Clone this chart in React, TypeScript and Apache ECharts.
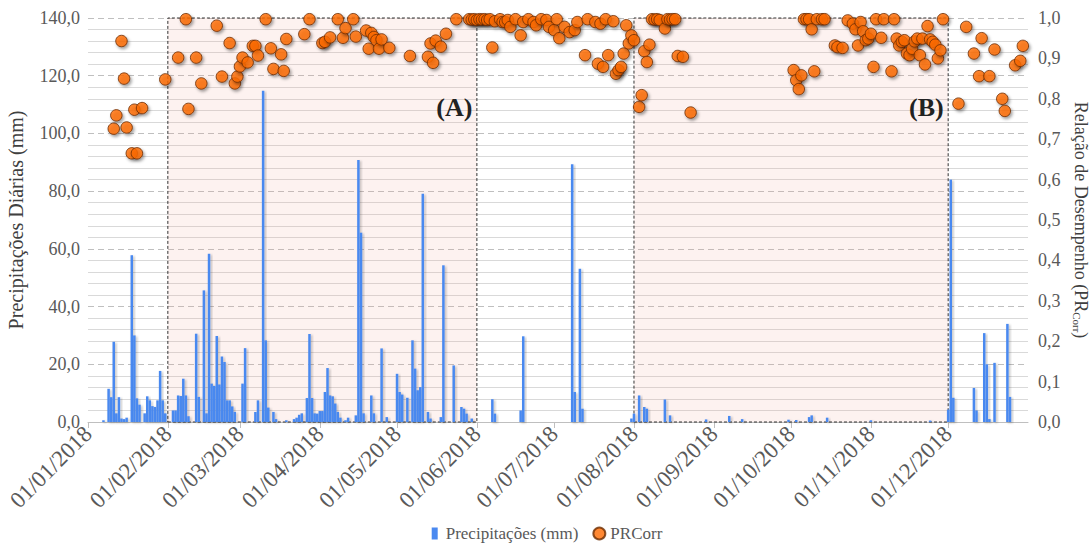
import React, { useEffect, useRef } from 'react';
import * as echarts from 'echarts';

const FONT = '"Liberation Serif", "Times New Roman", serif';
const YEAR = 2018;

// month indices (0 = January) where date ticks/labels are placed
const tickMonths = [0, 1, 2, 3, 4, 5, 6, 7, 8, 9, 10, 11];

// Daily precipitation (day of year 2018, mm)
const precipDay = [
  7, 9, 10, 11, 12, 13, 14, 15, 16, 18, 19, 20, 21, 23, 24, 25, 26, 27, 28, 29, 30, 31,
  34, 35, 36, 37, 38, 39, 40, 43, 44, 46, 47, 48, 49, 50, 51, 52, 53, 54, 55, 56, 57, 58,
  61, 62, 66, 67, 69, 70, 71, 73, 74, 78, 81, 82, 83, 84, 86, 87, 88, 89, 90,
  91, 92, 93, 94, 95, 96, 97, 98, 99, 101, 102, 105, 106, 107, 108, 111, 112, 115, 117,
  121, 122, 123, 125, 127, 128, 129, 130, 131, 133, 134, 138, 139, 143, 146, 147, 148, 150,
  158, 159, 169, 170, 189, 190, 192, 193, 212, 213, 215, 217, 218, 225, 227,
  241, 250, 255, 273, 276, 281, 282, 288, 305, 328,
  335, 336, 337, 345, 346, 349, 350, 351, 353, 358, 359,
];
const precipMm = [
  0.6, 11.5, 8.6, 27.8, 3.0, 8.6, 1.2, 1.0, 1.5, 57.8, 30.0, 8.2, 6.0, 3.0, 8.9, 7.5, 5.5, 5.2, 7.5, 17.7, 7.5, 3.0,
  4.0, 4.0, 9.2, 9.0, 15.0, 9.2, 2.0, 30.6, 8.7, 45.6, 3.0, 58.3, 13.3, 12.5, 29.8, 13.0, 22.7, 20.8, 7.5, 7.5, 5.4, 3.5,
  13.3, 25.6, 3.5, 7.5, 114.8, 28.3, 5.0, 3.5, 1.0, 0.6, 1.0, 1.5, 2.5, 3.0, 8.3, 30.5, 8.3, 3.0, 2.9,
  3.8, 3.8, 10.4, 18.7, 9.2, 8.9, 6.4, 3.5, 1.5, 0.6, 1.5, 2.3, 90.8, 65.6, 3.0, 9.2, 3.0, 25.5, 1.7,
  16.7, 10.4, 9.5, 8.4, 28.3, 18.5, 11.0, 12.1, 79.1, 3.5, 1.2, 1.7, 54.3, 19.6, 5.2, 4.6, 2.9, 1.2,
  7.9, 2.9, 4.0, 29.7, 89.3, 10.4, 53.1, 4.6, 1.2, 2.9, 9.2, 5.2, 4.6, 7.8, 2.3,
  0.9, 2.1, 1.0, 0.8, 0.7, 1.7, 2.3, 1.5, 0.6, 0.5,
  4.3, 84.0, 8.4, 11.8, 4.0, 30.8, 20.0, 1.0, 20.5, 34.0, 8.7,
];

// Performance ratio PRCorr (day of year 2018, value)
const prDay = [
  11, 12, 14, 15, 16, 18, 19, 20, 22, 31,
  36, 39, 40, 43, 45, 51, 53, 56, 58, 59, 60, 61, 63, 65, 66, 67, 70, 72, 73, 76, 77, 78,
  85, 87, 92, 93, 95, 98, 100, 101, 104, 105, 109, 110, 111, 112, 113, 114, 115, 118,
  126, 133, 134, 135, 136, 138, 140, 144,
  149, 150, 151, 152, 153, 154, 155, 156, 157, 158, 159, 161, 162, 163, 164, 165, 167, 169, 170,
  172, 174, 175, 177, 179, 180, 182, 183, 184, 186, 188, 190, 191, 194, 195, 198, 199, 200,
  201, 202, 203, 205, 206, 207, 208, 209, 210, 211, 212, 213, 215, 216, 217, 218, 219,
  220, 221, 222, 223, 225, 226, 227, 228, 229, 230, 232, 235,
  275, 276, 277, 278, 279, 280, 281, 282, 283, 284, 286, 287, 291, 292, 294, 296, 298, 299,
  300, 301, 302, 303, 304, 305, 306, 307, 309, 310, 313, 314,
  315, 316, 317, 318, 319, 320, 321, 322, 323, 324, 325, 326, 327, 328, 329, 330, 331, 332, 333,
  339, 342, 345, 347, 348, 351, 353, 356, 357, 361, 363, 364,
];
const prValue = [
  0.726, 0.759, 0.943, 0.85, 0.729, 0.665, 0.773, 0.665, 0.777, 0.848,
  0.902, 0.997, 0.775, 0.902, 0.838, 0.981, 0.855, 0.938, 0.838, 0.855, 0.88, 0.902, 0.89, 0.931, 0.931, 0.907, 0.997, 0.925, 0.874, 0.91, 0.869, 0.948,
  0.96, 0.997, 0.938, 0.941, 0.952, 0.997, 0.951, 0.975, 0.997, 0.954, 0.969, 0.924, 0.963, 0.953, 0.945, 0.924, 0.947, 0.926,
  0.906, 0.904, 0.937, 0.889, 0.944, 0.929, 0.961, 0.997,
  0.997, 0.996, 0.997, 0.995, 0.997, 0.996, 0.997, 0.995, 0.997, 0.927, 0.992, 0.997, 0.99, 0.99, 0.995, 0.978, 0.997, 0.957, 0.99,
  0.997, 0.99, 0.982, 0.997, 0.995, 0.978, 0.97, 0.997, 0.95, 0.978, 0.965, 0.97, 0.99, 0.908, 0.997, 0.99, 0.887, 0.986,
  0.879, 0.997, 0.908, 0.992, 0.862, 0.871, 0.879, 0.912, 0.982, 0.937, 0.957, 0.945, 0.78, 0.809, 0.918, 0.891, 0.934,
  0.997, 0.996, 0.997, 0.995, 0.974, 0.997, 0.996, 0.997, 0.997, 0.906, 0.904, 0.766,
  0.871, 0.846, 0.824, 0.858, 0.997, 0.997, 0.997, 0.972, 0.868, 0.997, 0.997, 0.997, 0.932, 0.928, 0.926, 0.994, 0.986, 0.972,
  0.932, 0.99, 0.967, 0.945, 0.949, 0.961, 0.879, 0.997, 0.951, 0.997, 0.868, 0.997,
  0.949, 0.932, 0.941, 0.945, 0.912, 0.908, 0.924, 0.942, 0.949, 0.908, 0.949, 0.885, 0.98, 0.947, 0.941, 0.934, 0.9, 0.92, 0.997,
  0.788, 0.978, 0.912, 0.856, 0.95, 0.856, 0.922, 0.8, 0.77, 0.883, 0.894, 0.931,
];

// Highlighted periods: label, start month, end month (first day of each month)
const periodLabels = ['(A)', '(B)'];
const periodStartMonth = [1, 7];
const periodEndMonth = [5, 11];

const dayTime = (day: number) => new Date(YEAR, 0, day).getTime();
const monthTime = (m: number) => new Date(YEAR, m, 1).getTime();
const pad = (n: number) => (n < 10 ? '0' + n : '' + n);
const fmtDate = (v: number) => {
  const d = new Date(v);
  return pad(d.getDate()) + '/' + pad(d.getMonth() + 1) + '/' + d.getFullYear();
};
const fmtNum = (v: number) => v.toFixed(1).replace('.', ',');
const serif = (size: number, color: string) => ({ fontFamily: FONT, fontSize: size, color });

export default function App() {
  const ref = useRef<HTMLDivElement>(null);
  useEffect(() => {
    if (!ref.current) return;
    const chart = echarts.init(ref.current, undefined, { renderer: 'svg' });
    const ticks = tickMonths.map(monthTime);
    const barData = precipDay.map((d, i) => [dayTime(d), precipMm[i]]);
    const prData = prDay.map((d, i) => [dayTime(d), prValue[i]]);
    const areas = periodLabels.map((lab, i) => [
      { xAxis: monthTime(periodStartMonth[i]), name: lab },
      { xAxis: monthTime(periodEndMonth[i]) },
    ]);

    const option: any = {
      animation: false,
      backgroundColor: '#ffffff',
      textStyle: { fontFamily: FONT },
      grid: { left: 88, right: 63, top: 18, bottom: 127, containLabel: false, outerBoundsMode: 'none' },
      legend: {
        bottom: 2,
        left: 'center',
        itemGap: 14,
        itemWidth: 12,
        itemHeight: 12,
        textStyle: serif(17, '#595959'),
        data: [
          { name: 'Precipitações (mm)', icon: 'path://M0,0M12,12M3,0h6v12h-6z' },
          { name: 'PRCorr', icon: 'circle' },
        ],
      },
      xAxis: {
        type: 'value',
        min: monthTime(0),
        max: monthTime(12),
        axisLine: { show: true, onZero: false, lineStyle: { color: '#bfbfbf', width: 1 } },
        axisTick: { show: true, customValues: ticks, length: 6, lineStyle: { color: '#bfbfbf' } },
        axisLabel: {
          customValues: ticks,
          rotate: 45,
          formatter: (v: number) => fmtDate(v),
          ...serif(23, '#595959'),
          margin: 8,
        },
        splitLine: { show: false },
      },
      yAxis: [
        {
          type: 'value',
          min: 0,
          max: 140,
          interval: 20,
          position: 'left',
          name: 'Precipitações Diárias (mm)',
          nameLocation: 'middle',
          nameRotate: 90,
          nameGap: 62,
          nameTextStyle: serif(20, '#404040'),
          axisLine: { show: false },
          axisTick: { show: false },
          axisLabel: { formatter: fmtNum, ...serif(18, '#595959'), margin: 8 },
          splitLine: { show: true, lineStyle: { color: '#bfbfbf', type: [6, 4], width: 1 } },
          minorTick: { show: false, splitNumber: 5 },
          minorSplitLine: { show: true, lineStyle: { color: '#d9d9d9', width: 1 } },
        },
        {
          type: 'value',
          min: 0,
          max: 1,
          interval: 0.1,
          position: 'right',
          name: '{t|Relação de Desempenho (PR}{s|Corr}{t|)}',
          nameLocation: 'middle',
          nameRotate: -90,
          nameGap: 38,
          nameTextStyle: {
            ...serif(18, '#404040'),
            rich: { t: serif(18, '#404040'), s: { ...serif(11, '#404040'), padding: [8, 0, 0, 0] } },
          },
          axisLine: { show: false },
          axisTick: { show: false },
          axisLabel: { formatter: fmtNum, ...serif(18, '#595959'), margin: 10 },
          splitLine: { show: false },
        },
      ],
      series: [
        {
          name: 'Precipitações (mm)',
          type: 'bar',
          yAxisIndex: 0,
          barWidth: 2.5,
          data: barData,
          itemStyle: {
            color: '#4a89f0',
            shadowColor: 'rgba(0,0,0,0.25)',
            shadowBlur: 2,
            shadowOffsetX: 1.5,
            shadowOffsetY: 1,
          },
          markArea: {
            silent: true,
            itemStyle: {
              color: 'rgba(240,160,150,0.14)',
              borderColor: '#333333',
              borderWidth: 1,
              borderType: [3, 2],
            },
            label: {
              show: true,
              position: 'insideTopRight',
              distance: 5,
              offset: [0, 72],
              fontFamily: FONT,
              fontSize: 26,
              fontWeight: 'bold',
              color: '#222222',
            },
            data: areas,
          },
        },
        {
          name: 'PRCorr',
          type: 'scatter',
          yAxisIndex: 1,
          symbol: 'circle',
          symbolSize: 11.5,
          data: prData,
          itemStyle: {
            color: '#ff6a00',
            borderColor: '#6b2c00',
            borderWidth: 1,
            shadowColor: 'rgba(0,0,0,0.45)',
            shadowBlur: 3,
            shadowOffsetX: 1.5,
            shadowOffsetY: 2,
          },
          z: 3,
        },
      ],
    };
    chart.setOption(option);
    return () => chart.dispose();
  }, []);
  return (
    <div
      ref={ref}
      style={{ position: 'absolute', left: 0, top: 0, width: 1091, height: 549, background: '#fff' }}
    />
  );
}
